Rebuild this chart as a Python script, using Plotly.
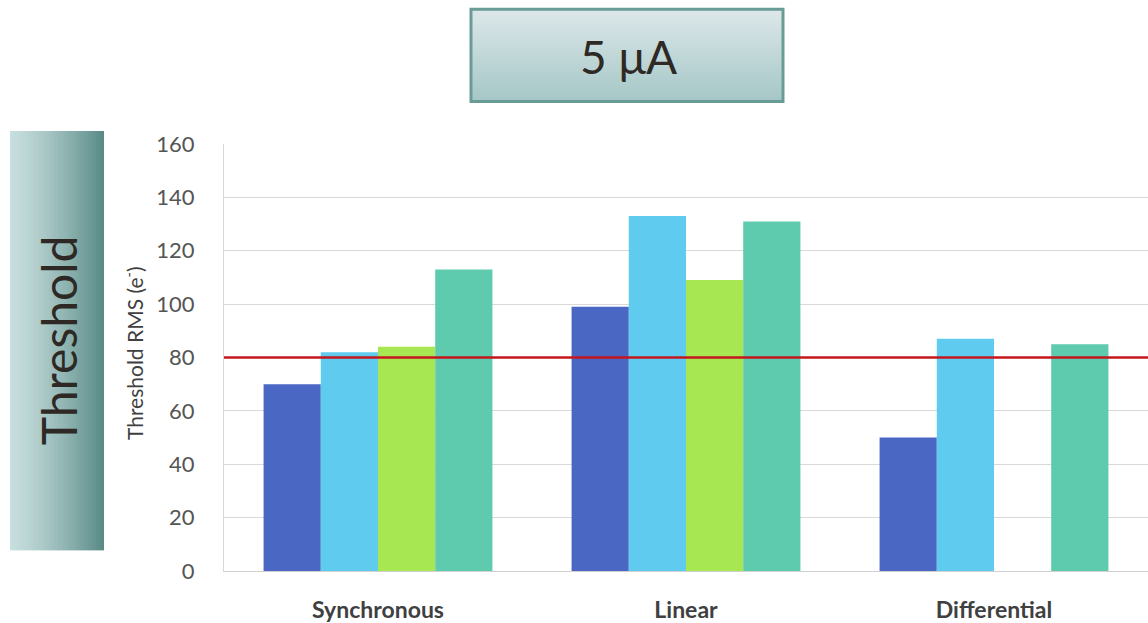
import plotly.graph_objects as go

# Threshold RMS (e-) per front-end at 5 µA
categories = ["Synchronous", "Linear", "Differential"]
series_names = ["Chip A", "Chip B", "Chip C", "Chip D"]
series_values = [
    [70, 99, 50],
    [82, 133, 87],
    [84, 109, None],
    [113, 131, 85],
]
series_colors = ["#4a67c4", "#5fcbef", "#a7e852", "#5ecbaf"]
threshold_limit = 80
y_ticks = [0, 20, 40, 60, 80, 100, 120, 140, 160]

W, H = 1148, 623
ML, MR, MT, MB = 224, 0, 144, 48

fig = go.Figure()
for name, vals, col in zip(series_names, series_values, series_colors):
    fig.add_trace(go.Bar(x=categories, y=vals, name=name, marker_color=col,
                         marker_line_width=0, showlegend=False))

# limit line across the plot area
fig.add_shape(type="line", xref="paper", yref="y", x0=0, x1=1,
              y0=threshold_limit, y1=threshold_limit,
              line=dict(color="#c4161c", width=2.5), layer="above")


def hex2rgb(h):
    h = h.lstrip("#")
    return tuple(int(h[i:i + 2], 16) for i in (0, 2, 4))


def mix(c1, c2, t):
    a, b = hex2rgb(c1), hex2rgb(c2)
    return "rgb(%d,%d,%d)" % tuple(round(a[i] + (b[i] - a[i]) * t) for i in range(3))


def px_x(p):
    return (p - ML) / (W - ML - MR)


def px_y(p):
    return (H - MB - p) / (H - MT - MB)


# side panel with horizontal gradient
n = 48
x0p, x1p, y0p, y1p = 10, 104, 131, 554
for i in range(n):
    a = x0p + (x1p - x0p) * i / n
    b = x0p + (x1p - x0p) * (i + 1) / n + (1.5 if i < n - 1 else 0)
    fig.add_shape(type="rect", xref="paper", yref="paper",
                  x0=px_x(a), x1=px_x(b), y0=px_y(y1p), y1=px_y(y0p),
                  fillcolor=mix("#c6dedd", "#5a8b87", (i / (n - 1)) ** 1.3),
                  line_width=0, layer="below")
fig.add_annotation(text="Threshold", xref="paper", yref="paper",
                   x=px_x(58), y=px_y(342), xanchor="center", yanchor="middle",
                   textangle=-90, showarrow=False,
                   font=dict(family="Lato", size=48, color="#2e2924"))

# title box with vertical gradient
bx0, bx1, by0, by1 = 471, 783, 8, 101
m = 40
for i in range(m):
    a = by0 + (by1 - by0) * i / m
    b = by0 + (by1 - by0) * (i + 1) / m + (1.5 if i < m - 1 else 0)
    fig.add_shape(type="rect", xref="paper", yref="paper",
                  x0=px_x(bx0), x1=px_x(bx1), y0=px_y(b), y1=px_y(a),
                  fillcolor=mix("#dce7e9", "#a6c7c7", i / (m - 1)),
                  line_width=0, layer="below")
fig.add_shape(type="rect", xref="paper", yref="paper",
              x0=px_x(bx0), x1=px_x(bx1), y0=px_y(by1), y1=px_y(by0),
              line=dict(color="#6a9c96", width=3), fillcolor="rgba(0,0,0,0)",
              layer="below")
fig.add_annotation(text="5 μA", xref="paper", yref="paper",
                   x=px_x(628), y=px_y(56), xanchor="center", yanchor="middle",
                   showarrow=False,
                   font=dict(family="Lato", size=46, color="#2e2924"))

# y-axis title
fig.add_annotation(text="Threshold RMS (e<sup>-</sup>)", xref="paper", yref="paper",
                   x=px_x(133), y=px_y(355), xanchor="center", yanchor="middle",
                   textangle=-90, showarrow=False,
                   font=dict(family="Lato", size=21, color="#404040"))

fig.update_layout(
    width=W, height=H, margin=dict(l=ML, r=MR, t=MT, b=MB),
    paper_bgcolor="white", plot_bgcolor="white",
    barmode="group", bargap=0.257, bargroupgap=0,
    xaxis=dict(showgrid=False, showline=True, linecolor="#d0d0d0", linewidth=1,
               ticks="", tickfont=dict(family="Lato", size=23, color="#404040",
                                       weight="bold"),
               ticklabelstandoff=18),
    yaxis=dict(range=[0, 160], tickvals=y_ticks, showgrid=True,
               gridcolor="#d9d9d9", gridwidth=1, zeroline=False,
               showline=True, linecolor="#d9d9d9", ticks="",
               tickfont=dict(family="Lato", size=22, color="#555555"),
               ticklabelstandoff=24),
)

fig.write_html("out.html")
